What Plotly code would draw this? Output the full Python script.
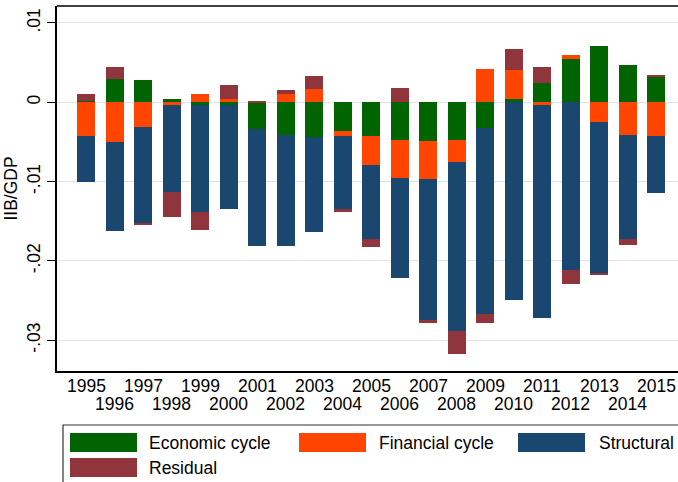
import plotly.graph_objects as go

years = list(range(1995, 2016))
economic = [0.0001, 0.0029, 0.0028, 0.0004, -0.0003, -0.0004, -0.0034, -0.0041, -0.0044, -0.0036,
            -0.0042, -0.0047, -0.0049, -0.0047, -0.0032, 0.0004, 0.0024, 0.0055, 0.0071, 0.0047, 0.0032]
financial = [-0.0042, -0.0050, -0.0031, -0.0004, 0.00105, 0.0004, 0.0, 0.00105, 0.0017, -0.0006,
             -0.0037, -0.0048, -0.0048, -0.0028, 0.0042, 0.0037, -0.0003, 0.0004, -0.0025, -0.0041, -0.0042]
structural = [-0.0058, -0.0112, -0.0122, -0.0109, -0.0135, -0.0131, -0.0147, -0.0140, -0.0120, -0.0093,
              -0.0093, -0.0127, -0.0178, -0.0213, -0.0235, -0.0249, -0.0269, -0.0211, -0.0190, -0.0131, -0.0072]
residual = [0.0010, 0.0016, -0.0002, -0.0032, -0.0023, 0.0018, 0.0002, 0.0005, 0.0016, -0.0003,
            -0.0010, 0.0018, -0.0003, -0.0029, -0.0011, 0.0026, 0.0021, -0.0018, -0.0003, -0.0008, 0.0002]

series_names = ["Economic cycle", "Financial cycle", "Structural", "Residual"]
series_values = [economic, financial, structural, residual]
series_colors = ["#006400", "#FF4500", "#1A476F", "#90353B"]

y_tickvals = [-0.03, -0.02, -0.01, 0, 0.01]
y_ticktext = ["-.03", "-.02", "-.01", "0", ".01"]

FONT = "Liberation Sans, Arial, Helvetica, sans-serif"
FS = 17.5

fig = go.Figure()
for name, vals, col in zip(series_names, series_values, series_colors):
    fig.add_bar(x=years, y=vals, name=name, marker=dict(color=col, line=dict(width=0)), width=0.63)

W, H = 678, 482
L, R, T, B = 57, 0, 6, 111
pw = W - L - R
ph = H - T - B

def px_x(px):
    return (px - L) / pw

def px_y(py):
    return (H - B - py) / ph

fig.update_layout(
    barmode="relative",
    width=W, height=H,
    margin=dict(l=L, r=R, t=T, b=B),
    paper_bgcolor="white", plot_bgcolor="white",
    showlegend=False,
    font=dict(family=FONT, size=FS, color="black"),
    bargap=0,
)
fig.update_xaxes(
    range=[years[0] - 1.02, years[0] + 20.77],
    showticklabels=False, ticks="", showgrid=False, zeroline=False,
    showline=True, linecolor="black", linewidth=1.5,
)
fig.update_yaxes(
    range=[-0.03388, 0.01214],
    tickvals=y_tickvals, ticktext=y_ticktext, tickangle=-90,
    ticks="outside", ticklen=8, tickcolor="black", tickwidth=1,
    showline=True, linecolor="black", linewidth=1.5,
    showgrid=True, gridcolor="#e3e3e3", gridwidth=1.3, zeroline=False,
    title=dict(text="IIB/GDP", font=dict(size=FS), standoff=2),
)

shapes = [dict(type="line", xref="paper", yref="paper", x0=0, x1=1, y0=1, y1=1,
               line=dict(color="black", width=1.5))]
annotations = []

# two-row year labels
for i, yr in enumerate(years):
    row_py = 386 if i % 2 == 0 else 404
    annotations.append(dict(x=yr, xref="x", y=px_y(row_py), yref="paper", text=str(yr),
                            showarrow=False, xanchor="center", yanchor="middle",
                            font=dict(size=FS, family=FONT, color="black")))

# legend box
shapes.append(dict(type="rect", xref="paper", yref="paper",
                   x0=px_x(63), x1=px_x(690), y0=px_y(425), y1=px_y(500),
                   line=dict(color="#333333", width=1.2), fillcolor="white", layer="above"))
legend_cells = [(70, 147, 442.5), (299, 377, 442.5), (518, 597, 442.5), (70, 147, 467.5)]
for (sx, tx, cy), name, col in zip(legend_cells, series_names, series_colors):
    shapes.append(dict(type="rect", xref="paper", yref="paper",
                       x0=px_x(sx), x1=px_x(sx + 67), y0=px_y(cy - 9.5), y1=px_y(cy + 9.5),
                       line=dict(width=0), fillcolor=col, layer="above"))
    annotations.append(dict(x=px_x(tx), xref="paper", y=px_y(cy), yref="paper", text=name,
                            showarrow=False, xanchor="left", yanchor="middle",
                            font=dict(size=FS, family=FONT, color="black")))

fig.update_layout(shapes=shapes, annotations=annotations)
fig.write_html(
    "out.html",
    config={"displayModeBar": False},
    post_script="document.body.style.margin='0';document.body.style.overflow='hidden';",
)
